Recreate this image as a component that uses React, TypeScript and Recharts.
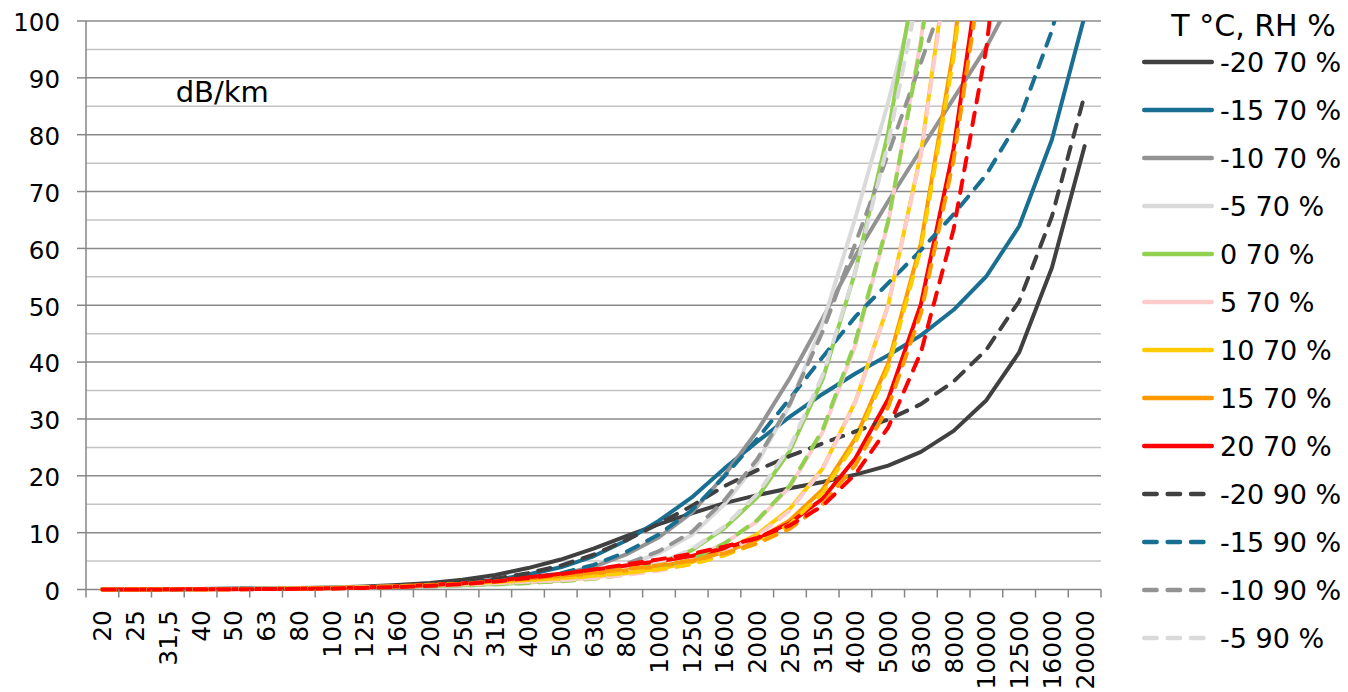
import React from "react";
import { LineChart, Line, XAxis, YAxis, CartesianGrid, Legend } from "recharts";

// octave-band centre frequencies (Hz), as printed on the axis
const freqLabels = [
  "20", "25", "31,5", "40", "50", "63", "80", "100", "125", "160", "200",
  "250", "315", "400", "500", "630", "800", "1000", "1250", "1600", "2000",
  "2500", "3150", "4000", "5000", "6300", "8000", "10000", "12500", "16000", "20000",
];

const yTicks = [0, 5, 10, 15, 20, 25, 30, 35, 40, 45, 50, 55, 60, 65, 70, 75, 80, 85, 90, 95, 100];

// attenuation in dB/km, RH 70 %
const m20_70 = [0.033, 0.047, 0.066, 0.092, 0.125, 0.173, 0.246, 0.351, 0.508, 0.78, 1.16, 1.71, 2.55, 3.77, 5.27, 7.18, 9.38, 11.5, 13.4, 15.2, 16.6, 17.8, 18.9, 20.2, 21.8, 24.2, 27.9, 33.3, 41.7, 56.6, 78.0];
const m15_70 = [0.029, 0.042, 0.061, 0.085, 0.114, 0.152, 0.203, 0.271, 0.37, 0.539, 0.775, 1.14, 1.71, 2.63, 3.91, 5.84, 8.63, 12.1, 16.2, 21.3, 26.0, 30.4, 34.4, 38.0, 41.2, 44.7, 49.2, 55.1, 63.9, 79.1, 100.9];
const m10_70 = [0.026, 0.038, 0.056, 0.082, 0.113, 0.152, 0.201, 0.257, 0.329, 0.442, 0.593, 0.821, 1.18, 1.78, 2.64, 4.0, 6.17, 9.19, 13.5, 20.1, 27.9, 37.2, 47.7, 58.7, 68.3, 77.4, 86.4, 95.4, 106.3, 123.2, 146.0];
const m5_70 = [0.022, 0.033, 0.051, 0.077, 0.11, 0.155, 0.212, 0.275, 0.348, 0.445, 0.558, 0.716, 0.956, 1.34, 1.9, 2.8, 4.26, 6.38, 9.6, 15.0, 22.3, 32.5, 46.8, 65.4, 85.7, 108.2, 131.4, 152.2, 172.9, 197.8, 225.8];
const p0_70 = [0.018, 0.028, 0.044, 0.069, 0.102, 0.151, 0.217, 0.296, 0.387, 0.502, 0.62, 0.76, 0.947, 1.22, 1.6, 2.21, 3.2, 4.64, 6.87, 10.8, 16.2, 24.4, 37.0, 56.0, 80.4, 113.2, 154.4, 197.5, 242.5, 293.0, 340.4];
const p5_70 = [0.015, 0.024, 0.038, 0.06, 0.091, 0.138, 0.208, 0.298, 0.412, 0.565, 0.721, 0.893, 1.09, 1.34, 1.64, 2.09, 2.79, 3.8, 5.37, 8.12, 12.0, 18.1, 27.7, 43.0, 64.5, 96.7, 143.5, 201.3, 272.3, 363.0, 452.1];
const p10_70 = [0.013, 0.02, 0.032, 0.051, 0.078, 0.121, 0.189, 0.28, 0.406, 0.592, 0.8, 1.04, 1.31, 1.61, 1.92, 2.32, 2.89, 3.66, 4.82, 6.83, 9.7, 14.2, 21.3, 33.1, 50.0, 76.7, 118.4, 175.1, 253.8, 370.0, 501.6];
const p15_70 = [0.011, 0.017, 0.027, 0.043, 0.067, 0.105, 0.165, 0.251, 0.376, 0.574, 0.818, 1.12, 1.5, 1.93, 2.36, 2.83, 3.4, 4.08, 5.02, 6.58, 8.78, 12.2, 17.6, 26.6, 39.8, 60.9, 95.0, 143.5, 215.2, 331.4, 478.5];
const p20_70 = [0.009, 0.014, 0.023, 0.036, 0.057, 0.089, 0.143, 0.22, 0.335, 0.527, 0.779, 1.12, 1.59, 2.17, 2.79, 3.47, 4.22, 4.98, 5.89, 7.25, 9.04, 11.7, 16.0, 23.1, 33.5, 50.2, 77.6, 117.5, 178.2, 281.1, 420.2];

// RH 90 %
const m20_90 = [0.028, 0.04, 0.056, 0.078, 0.105, 0.142, 0.196, 0.269, 0.38, 0.57, 0.838, 1.25, 1.88, 2.88, 4.21, 6.12, 8.69, 11.6, 14.7, 18.2, 21.0, 23.5, 25.7, 27.8, 29.9, 32.6, 36.6, 42.2, 50.7, 65.6, 87.0];
const m15_90 = [0.024, 0.036, 0.052, 0.075, 0.101, 0.135, 0.179, 0.232, 0.305, 0.424, 0.589, 0.841, 1.24, 1.9, 2.84, 4.32, 6.61, 9.69, 13.9, 19.9, 26.5, 33.6, 40.9, 48.0, 53.9, 59.7, 66.0, 73.0, 82.6, 98.3, 120.4];
const m10_90 = [0.021, 0.031, 0.047, 0.071, 0.1, 0.138, 0.186, 0.239, 0.302, 0.392, 0.504, 0.668, 0.923, 1.34, 1.94, 2.91, 4.49, 6.75, 10.1, 15.7, 22.9, 32.7, 45.4, 60.9, 76.6, 92.7, 108.7, 123.1, 138.3, 158.5, 183.4];
const m5_90 = [0.017, 0.027, 0.041, 0.064, 0.094, 0.137, 0.194, 0.259, 0.334, 0.429, 0.531, 0.659, 0.841, 1.12, 1.52, 2.16, 3.2, 4.72, 7.07, 11.1, 16.8, 25.1, 37.7, 56.0, 78.5, 107.2, 141.0, 174.4, 208.1, 246.0, 283.4];
const p0_90 = [0.015, 0.023, 0.035, 0.056, 0.084, 0.127, 0.19, 0.267, 0.363, 0.488, 0.615, 0.756, 0.927, 1.15, 1.45, 1.89, 2.61, 3.66, 5.28, 8.11, 12.2, 18.3, 28.1, 43.6, 64.8, 95.9, 139.6, 191.3, 252.0, 326.2, 397.4];
const p5_90 = [0.012, 0.019, 0.03, 0.048, 0.073, 0.113, 0.174, 0.256, 0.367, 0.525, 0.698, 0.892, 1.11, 1.36, 1.63, 2.0, 2.55, 3.31, 4.48, 6.51, 9.42, 13.9, 21.2, 33.0, 49.9, 76.4, 117.2, 171.7, 245.3, 350.6, 465.7];
const p10_90 = [0.01, 0.016, 0.025, 0.04, 0.062, 0.097, 0.153, 0.231, 0.344, 0.52, 0.73, 0.99, 1.3, 1.65, 2.0, 2.4, 2.91, 3.54, 4.45, 5.99, 8.17, 11.5, 17.0, 25.9, 39.0, 60.0, 93.6, 141.2, 210.6, 321.4, 458.8];
const p15_90 = [0.008, 0.013, 0.021, 0.034, 0.053, 0.083, 0.132, 0.203, 0.308, 0.482, 0.707, 1.01, 1.41, 1.9, 2.41, 2.97, 3.59, 4.25, 5.08, 6.36, 8.09, 10.7, 15.0, 21.9, 32.1, 48.6, 75.6, 114.6, 173.8, 273.6, 407.1];
const p20_90 = [0.007, 0.011, 0.018, 0.029, 0.045, 0.07, 0.113, 0.174, 0.269, 0.429, 0.647, 0.958, 1.4, 2.01, 2.7, 3.51, 4.42, 5.3, 6.26, 7.54, 9.08, 11.3, 14.7, 20.3, 28.5, 41.7, 63.4, 95.3, 144.4, 229.3, 347.5];

const series = [
  { key: "m20_70", name: "-20 70 %", color: "#404040", dashed: false, values: m20_70 },
  { key: "m15_70", name: "-15 70 %", color: "#186f91", dashed: false, values: m15_70 },
  { key: "m10_70", name: "-10 70 %", color: "#939393", dashed: false, values: m10_70 },
  { key: "m5_70", name: "-5 70 %", color: "#dadada", dashed: false, values: m5_70 },
  { key: "p0_70", name: "0 70 %", color: "#92d050", dashed: false, values: p0_70 },
  { key: "p5_70", name: "5 70 %", color: "#ffcccc", dashed: false, values: p5_70 },
  { key: "p10_70", name: "10 70 %", color: "#ffcc00", dashed: false, values: p10_70 },
  { key: "p15_70", name: "15 70 %", color: "#ff9900", dashed: false, values: p15_70 },
  { key: "p20_70", name: "20 70 %", color: "#ff0000", dashed: false, values: p20_70 },
  { key: "m20_90", name: "-20 90 %", color: "#404040", dashed: true, values: m20_90 },
  { key: "m15_90", name: "-15 90 %", color: "#186f91", dashed: true, values: m15_90 },
  { key: "m10_90", name: "-10 90 %", color: "#939393", dashed: true, values: m10_90 },
  { key: "m5_90", name: "-5 90 %", color: "#dadada", dashed: true, values: m5_90 },
  { key: "p0_90", name: "0 90 %", color: "#92d050", dashed: true, values: p0_90 },
  { key: "p5_90", name: "5 90 %", color: "#ffcccc", dashed: true, values: p5_90 },
  { key: "p10_90", name: "10 90 %", color: "#ffcc00", dashed: true, values: p10_90 },
  { key: "p15_90", name: "15 90 %", color: "#ff9900", dashed: true, values: p15_90 },
  { key: "p20_90", name: "20 90 %", color: "#ff0000", dashed: true, values: p20_90 },
];

const data = freqLabels.map((f, i) => {
  const row: Record<string, string | number> = { f };
  series.forEach((s) => {
    row[s.key] = s.values[i];
  });
  return row;
});

const W = 1340;
const H = 684;
const PLOT_LEFT = 78;
const PLOT_TOP = 13;
const PLOT_RIGHT = 1093;
const PLOT_BOTTOM = 581.5;
const HALF_BAND = (PLOT_RIGHT - PLOT_LEFT) / freqLabels.length / 2;
const FONT = "'DejaVu Sans', Verdana, sans-serif";
const AXIS = "#868686";

// round caps on the series; lines are cut at 100 like in Excel, but the
// clip reaches a few px below 0 so the flat lines keep their full width
const css = `
.recharts-line-curve { stroke-linecap: round; stroke-linejoin: round; }
.recharts-surface [clip-path] { clip-path: url(#plot-area-clip) !important; }
`;

const XTick = (props: any) => {
  const { x, y, payload } = props;
  const last = payload.value === freqLabels[freqLabels.length - 1];
  return (
    <g>
      <line x1={x - HALF_BAND} x2={x - HALF_BAND} y1={y} y2={y + 8} stroke={AXIS} strokeWidth={1.5} />
      {last && (
        <line x1={x + HALF_BAND} x2={x + HALF_BAND} y1={y} y2={y + 8} stroke={AXIS} strokeWidth={1.5} />
      )}
      <text
        transform={`translate(${x},${y}) rotate(-90)`}
        x={-20.5}
        y={0}
        dy="0.36em"
        textAnchor="end"
        fontSize={25}
        fontFamily={FONT}
        fill="#000"
      >
        {payload.value}
      </text>
    </g>
  );
};

const YTick = (props: any) => {
  const { x, y, payload } = props;
  if (payload.value % 10 !== 0) return <g />;
  return (
    <g>
      <line x1={x - 9} x2={x} y1={y} y2={y} stroke={AXIS} strokeWidth={1.5} />
      <text x={x - 26} y={y} dy="0.42em" textAnchor="end" fontSize={24.5} fontFamily={FONT} fill="#000">
        {payload.value}
      </text>
    </g>
  );
};

// the 0 grid line doubles as the category axis line, so the series sit on top of it
const gridLine = (props: any) => {
  const { x1, x2, y1, y2 } = props;
  const step = Math.round(((PLOT_BOTTOM - y1) / (PLOT_BOTTOM - PLOT_TOP)) * 20);
  const major = step % 2 === 0;
  return (
    <line
      key={`h-${y1}`}
      x1={x1}
      x2={x2}
      y1={y1}
      y2={y2}
      stroke={step === 0 ? AXIS : major ? "#8a8a8a" : "#c4c4c4"}
      strokeWidth={1.5}
    />
  );
};

// Excel cut the legend off after 13 entries
const renderLegend = () => (
  <svg width={220} height={H} style={{ display: "block" }}>
    <text x={125.5} y={28} textAnchor="middle" fontSize={30} fontFamily={FONT} fill="#000">
      T °C, RH %
    </text>
    {series.slice(0, 13).map((s, i) => {
      const cy = 54 + 48 * i;
      return (
        <g key={s.key}>
          <line
            x1={16.25}
            x2={s.dashed ? 75.5 : 83.75}
            y1={cy}
            y2={cy}
            stroke={s.color}
            strokeWidth={4.5}
            strokeLinecap="round"
            strokeDasharray={s.dashed ? "12.4 11" : undefined}
          />
          <text x={92} y={cy} dy="0.38em" fontSize={27} fontFamily={FONT} fill="#000">
            {s.name}
          </text>
        </g>
      );
    })}
  </svg>
);

export default function App() {
  return (
    <>
      <style>{css}</style>
      <LineChart
        width={W}
        height={H}
        data={data}
        margin={{ top: PLOT_TOP, right: W - PLOT_RIGHT, bottom: 0, left: 0 }}
      >
        <defs>
          <clipPath id="plot-area-clip" clipPathUnits="userSpaceOnUse">
            <rect
              x={PLOT_LEFT - 10}
              y={PLOT_TOP}
              width={PLOT_RIGHT - PLOT_LEFT + 20}
              height={PLOT_BOTTOM - PLOT_TOP + 8}
            />
          </clipPath>
        </defs>
        <CartesianGrid vertical={false} horizontal={gridLine} />
        <XAxis
          dataKey="f"
          type="category"
          interval={0}
          padding={{ left: HALF_BAND, right: HALF_BAND }}
          height={H - PLOT_BOTTOM}
          tickSize={0}
          tickMargin={0}
          tickLine={false}
          axisLine={false}
          tick={XTick}
        />
        <YAxis
          type="number"
          domain={[0, 100]}
          allowDataOverflow
          ticks={yTicks}
          interval={0}
          width={PLOT_LEFT}
          tickSize={0}
          tickMargin={0}
          tickLine={false}
          axisLine={{ stroke: AXIS, strokeWidth: 1.5 }}
          tick={YTick}
        />
        <Legend
          layout="horizontal"
          verticalAlign="middle"
          align="center"
          content={renderLegend}
          wrapperStyle={{ position: "absolute", left: 1120, top: 0, width: 220, height: H }}
        />
        {series.map((s) => (
          <Line
            key={s.key}
            type="linear"
            dataKey={s.key}
            name={s.name}
            stroke={s.color}
            strokeWidth={4}
            strokeDasharray={s.dashed ? "12.5 10.5" : undefined}
            dot={false}
            activeDot={false}
            isAnimationActive={false}
          />
        ))}
        <text x={167.7} y={93.7} fontSize={29} fontFamily={FONT} fill="#000">
          dB/km
        </text>
      </LineChart>
    </>
  );
}
